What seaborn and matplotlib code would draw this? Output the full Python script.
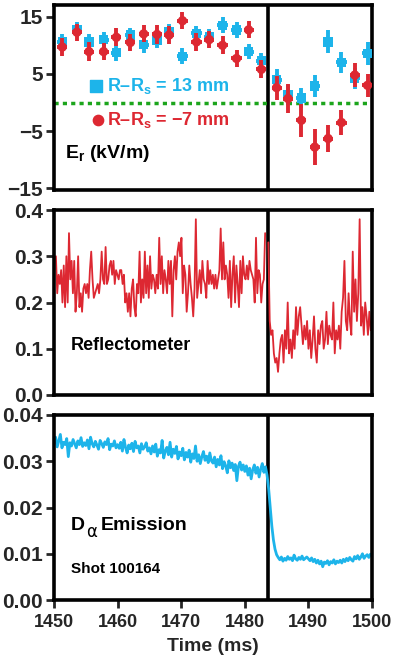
import numpy as np
import pandas as pd
import matplotlib
matplotlib.use("Agg")
import matplotlib.pyplot as plt
import seaborn as sns

# ---------------- data ----------------
# Er points (time ms, kV/m)
er_time_blue = [1451.3, 1453.6, 1455.5, 1457.8, 1459.8, 1462.0, 1464.1, 1466.2, 1468.1, 1470.2,
                1472.4, 1474.4, 1476.5, 1478.7, 1480.6, 1482.6, 1485.0, 1486.8, 1488.9, 1491.0,
                1493.1, 1495.2, 1497.3, 1499.3]
er_blue = [10.6, 12.8, 10.6, 11.0, 8.7, 11.8, 10.1, 10.9, 12.4, 8.1,
           12.1, 11.5, 13.5, 12.7, 8.9, 7.3, 4.0, 1.3, 0.8, 2.9,
           10.6, 7.0, 4.2, 8.6]
er_blue_err = [1.3, 1.3, 1.4, 1.3, 1.4, 1.3, 1.4, 1.3, 1.3, 1.4,
               1.3, 1.3, 1.4, 1.4, 1.3, 1.4, 1.9, 1.8, 1.8, 1.9,
               2.0, 1.9, 1.8, 2.0]
er_time_red = [1451.3, 1453.6, 1455.5, 1457.8, 1459.8, 1462.0, 1464.1, 1466.2, 1468.1, 1470.2,
               1472.4, 1474.4, 1476.5, 1478.7, 1480.6, 1482.6, 1485.0, 1486.8, 1488.9, 1491.0,
               1493.1, 1495.2, 1497.3, 1499.3]
er_red = [9.7, 12.3, 8.9, 8.9, 11.4, 10.5, 12.0, 11.9, 11.8, 14.3,
          10.6, 11.0, 10.0, 7.7, 12.7, 5.8, 2.6, 0.7, -3.1, -7.8,
          -6.3, -3.5, 4.8, 3.0]
er_red_err = [1.5, 1.5, 1.6, 1.5, 1.6, 1.5, 1.5, 1.6, 1.5, 1.5,
              1.6, 1.5, 1.6, 1.5, 1.5, 1.6, 2.1, 2.6, 2.9, 3.1,
              2.4, 2.2, 2.1, 2.0]
er_terr = 0.8

# Reflectometer signal (x0.01), before and after the transition
refl_pre = [30, 22, 26, 24, 27, 20, 28, 19, 30, 20, 35, 25, 29,
            22, 29, 18, 22, 30, 19, 22, 18, 23,
            24, 22, 24, 21, 27, 31, 25, 21, 22, 23, 24, 22, 25, 31, 25, 24, 32,
            24, 25, 28, 29, 26, 29, 24, 27, 26, 25, 27, 27, 24, 26, 20, 22, 18,
            22, 17, 23, 25, 19, 17, 24, 22, 31, 20, 25, 21, 31, 22, 28, 21,
            30, 23, 26, 25, 22, 26, 23, 34, 24, 30, 22, 27, 25, 22, 29, 24,
            29, 17, 27, 30, 25, 31, 33, 30, 34, 22, 28, 26, 18,
            22, 28, 24, 21, 17, 23, 38, 21, 24, 27, 22, 29, 25, 24, 21,
            29, 24, 27, 24, 26, 23, 26, 23, 25, 27, 36, 25, 33, 25, 28,
            26, 21, 29, 19, 26, 30, 20, 28, 24, 19, 29, 22, 30,
            26, 25, 28, 25, 29, 27, 26, 25, 20, 34, 22, 27, 26, 20, 24, 25, 35]
refl_post = [33, 16, 13, 14, 9, 7, 8, 5, 9, 12, 13, 7, 14, 10, 20, 9, 12, 8, 14, 10,
             19, 13, 17, 19, 15, 11, 15, 12, 16, 10, 14, 8, 12, 17, 10, 7, 14, 11, 15, 16,
             10, 12, 18, 11, 15, 13, 12, 20, 9, 14, 12, 15, 10, 18, 21, 29, 16, 14, 22, 16,
             13, 31, 18, 25, 16, 22, 38, 15, 19, 13, 20, 17, 13, 18, 14]
refl_pre_span = (1450.3, 1483.2)
refl_post_span = (1483.7, 1499.8)

# D-alpha emission (units of 1e-4), sampled every 0.25 ms from 1450 to 1500
dalpha = [338, 352, 331, 345, 358, 329, 341, 336, 349, 310, 340, 333, 347, 338, 329, 344, 336, 351, 332, 340,
          334, 346, 327, 352, 338, 331, 343, 335, 326, 345, 338, 330, 342, 336, 349, 325, 337, 333, 344, 329,
          336, 328, 341, 322, 347, 330, 318, 335, 327, 339, 321, 343, 329, 333, 318, 338, 326, 331, 340, 322,
          329, 316, 333, 320, 337, 311, 325, 318, 345, 307, 322, 330, 314, 341, 309, 326, 317, 332, 305, 320,
          312, 328, 303, 319, 309, 324, 298, 316, 306, 333, 300, 314, 295, 310, 321, 302, 311, 297, 318, 301,
          296, 309, 288, 304, 292, 312, 284, 299, 290, 275, 301, 286, 296, 280, 293, 258, 289, 298, 281, 292,
          278, 290, 270, 285, 262, 282, 292, 274, 287, 266, 283, 295, 276, 288,
          270, 240, 200, 160, 130, 110, 98, 92,
          87, 93, 84, 90, 86, 94, 88, 91, 85, 97, 89, 86, 92, 88, 95, 87, 90, 93,
          89, 85, 91, 83, 88, 80, 86, 78, 84, 72, 82, 79, 85, 76, 83, 80, 87, 78, 84, 81,
          86, 80, 88, 83, 90, 85, 92, 87, 84, 94, 89, 96, 88, 93, 100, 90, 95, 98, 92, 99, 97]
dalpha_span = (1450.0, 1500.0)

lh_time = 1483.6
x_ticks = [1450, 1460, 1470, 1480, 1490, 1500]

# ---------------- style ----------------
sns.set_style("white")
FONT = ['Liberation Sans', 'DejaVu Sans']
plt.rcParams['font.family'] = FONT
plt.rcParams['font.weight'] = 'bold'
plt.rcParams['mathtext.fontset'] = 'custom'
plt.rcParams['mathtext.rm'] = 'Liberation Sans:bold'
plt.rcParams['mathtext.it'] = 'Liberation Sans:bold'
plt.rcParams['mathtext.bf'] = 'Liberation Sans:bold'
plt.rcParams['axes.unicode_minus'] = True

BLUE = '#1DB4EA'
RED = '#DD2832'
GREEN = '#1CA51C'

fig = plt.figure(figsize=(3.93, 6.63), dpi=100)
ax1 = fig.add_axes([54/393, 1-190/663, 318/393, 185/663])
ax2 = fig.add_axes([54/393, 1-395/663, 318/393, 185/663])
ax3 = fig.add_axes([54/393, 1-600/663, 318/393, 185/663])

TICK_FS = 15

for ax in (ax1, ax2, ax3):
    ax.set_xlim(1450, 1500)
    for s in ax.spines.values():
        s.set_linewidth(2.6)
        s.set_color('black')
    ax.tick_params(axis='y', direction='out', length=6, width=2, labelsize=TICK_FS, pad=2, left=True)
    ax.axvline(lh_time, color='black', lw=2.6, zorder=1)
    ax.set_xticks(x_ticks)

for ax in (ax1, ax2):
    ax.tick_params(axis='x', bottom=False, labelbottom=False)

ax3.tick_params(axis='x', direction='out', length=6, width=2, labelsize=13, pad=4, bottom=True)

# ---- top panel: Er ----
ax1.set_ylim(-15.3, 17.05)
ax1.set_yticks([15, 5, -5, -15])
ax1.set_yticklabels(['15', '5', '\u22125', '\u221215'])
ax1.axhline(0, color=GREEN, lw=2.5, ls=(0, (1.2, 1.2)), zorder=1)

df_b = pd.DataFrame({'t': er_time_blue, 'er': er_blue})
df_r = pd.DataFrame({'t': er_time_red, 'er': er_red})
ax1.errorbar(er_time_blue, er_blue, yerr=er_blue_err, xerr=er_terr, fmt='none',
             ecolor=BLUE, elinewidth=2.8, capsize=0, zorder=2)
sns.scatterplot(data=df_b, x='t', y='er', ax=ax1, marker='s', s=45, color=BLUE,
                edgecolor='none', zorder=3, legend=False)
ax1.errorbar(er_time_red, er_red, yerr=er_red_err, xerr=er_terr, fmt='none',
             ecolor=RED, elinewidth=2.8, capsize=0, zorder=4)
sns.scatterplot(data=df_r, x='t', y='er', ax=ax1, marker='o', s=45, color=RED,
                edgecolor='none', zorder=5, legend=False)
ax1.set_xlabel('')
ax1.set_ylabel('')

# legend drawn as text
ax1.scatter([1456.6], [2.9], marker='s', s=70, color=BLUE, zorder=6)
ax1.text(1458.3, 2.9, 'R\u2013R$_\\mathrm{s}$ = 13 mm', color=BLUE, fontsize=13,
         fontweight='bold', va='center', ha='left')
ax1.scatter([1456.9], [-3.1], marker='o', s=55, color=RED, zorder=6)
ax1.text(1458.3, -3.1, 'R\u2013R$_\\mathrm{s}$ = \u22127 mm', color=RED, fontsize=13,
         fontweight='bold', va='center', ha='left')
ax1.text(1451.8, -9.0, 'E$_\\mathrm{r}$ (kV/m)', color='black', fontsize=14,
         fontweight='bold', va='center', ha='left')

# ---- middle panel: reflectometer ----
t_pre = np.linspace(refl_pre_span[0], refl_pre_span[1], len(refl_pre))
t_post = np.linspace(refl_post_span[0], refl_post_span[1], len(refl_post))
df_pre = pd.DataFrame({'t': t_pre, 'v': np.array(refl_pre) / 100.0})
df_post = pd.DataFrame({'t': t_post, 'v': np.array(refl_post) / 100.0})
sns.lineplot(data=df_pre, x='t', y='v', ax=ax2, color=RED, lw=1.3, zorder=2)
sns.lineplot(data=df_post, x='t', y='v', ax=ax2, color=RED, lw=1.3, zorder=2)
ax2.set_ylim(0, 0.4)
ax2.set_yticks([0.0, 0.1, 0.2, 0.3, 0.4])
ax2.set_yticklabels(['0.0', '0.1', '0.2', '0.3', '0.4'])
ax2.set_xlabel('')
ax2.set_ylabel('')
ax2.text(1452.6, 0.107, 'Reflectometer', color='black', fontsize=13,
         fontweight='bold', va='center', ha='left')

# ---- bottom panel: D-alpha ----
t_da = np.linspace(dalpha_span[0], dalpha_span[1], len(dalpha))
df_da = pd.DataFrame({'t': t_da, 'v': np.array(dalpha) / 1e4})
sns.lineplot(data=df_da, x='t', y='v', ax=ax3, color=BLUE, lw=2.0, zorder=2)
ax3.set_ylim(0, 0.04)
ax3.set_yticks([0.0, 0.01, 0.02, 0.03, 0.04])
ax3.set_yticklabels(['0.00', '0.01', '0.02', '0.03', '0.04'])
ax3.set_xticks(x_ticks)
ax3.set_xticklabels([str(v) for v in x_ticks])
ax3.set_ylabel('')
ax3.set_xlabel('Time (ms)', fontsize=14, fontweight='bold', labelpad=5)
ax3.text(1452.6, 0.0160, 'D', color='black', fontsize=14, fontweight='bold', va='center', ha='left')
ax3.text(1455.0, 0.0147, '\u03b1', color='black', fontsize=12, fontweight='normal',
         va='center', ha='left', family=['DejaVu Sans'])
ax3.text(1457.3, 0.0160, 'Emission', color='black', fontsize=14, fontweight='bold', va='center', ha='left')
ax3.text(1452.6, 0.0066, 'Shot 100164', color='black', fontsize=11, fontweight='bold', va='center', ha='left')

for ax in (ax1, ax2, ax3):
    for lab in ax.get_yticklabels() + ax.get_xticklabels():
        lab.set_fontweight('bold')

fig.savefig('out.png', dpi=100)
